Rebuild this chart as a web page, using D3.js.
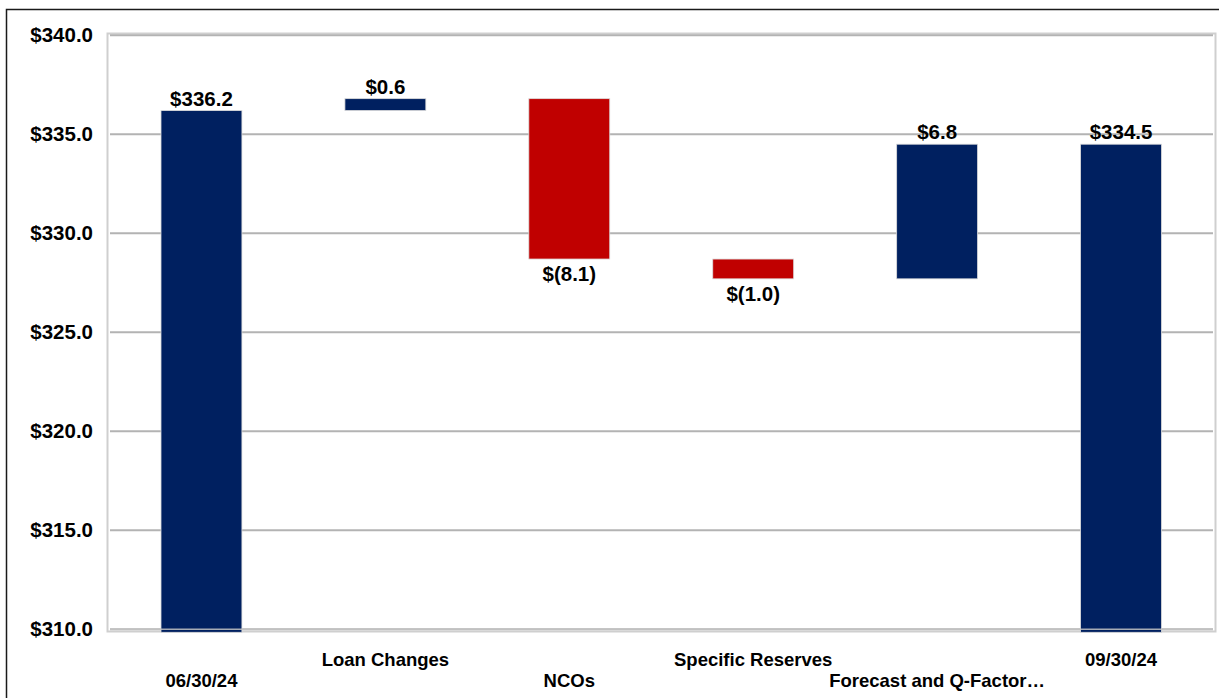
<!DOCTYPE html>
<html>
<head>
<meta charset="utf-8">
<script src="https://cdn.jsdelivr.net/npm/d3@7"></script>
<style>
  html, body { margin: 0; padding: 0; background: #ffffff; }
  svg { display: block; }
  text { font-family: "Liberation Sans", Arial, Helvetica, sans-serif; font-weight: bold; fill: #000; }
</style>
</head>
<body>
<svg id="chart" width="1219" height="698"></svg>
<script>
// Allowance walk, $ millions
const categories = ["06/30/24", "Loan Changes", "NCOs", "Specific Reserves", "Forecast and Q-Factor\u2026", "09/30/24"];
const amounts = [336.2, 0.6, -8.1, -1.0, 6.8, 334.5];
const isTotal = [true, false, false, false, false, true];
const yTicks = [310, 315, 320, 325, 330, 335, 340];
const yDomain = [310, 340];

const NAVY = "#002060";
const RED = "#C00000";

const svg = d3.select("#chart");
const W = 1219, H = 698;

// outer frame (top and left edges)
svg.append("path")
  .attr("d", `M6.5,${H} L6.5,9.5 L${W},9.5`)
  .attr("fill", "none")
  .attr("stroke", "#1a1a1a")
  .attr("stroke-width", 1.5);

const plot = { left: 107, right: 1216, top: 33, bottom: 632 };

const x = d3.scaleBand()
  .domain(categories)
  .range([109.5, 1213])
  .paddingInner(0.56)
  .paddingOuter(0.28);

const y = d3.scaleLinear()
  .domain(yDomain)
  .range([629.3, 35.3]);

// plot-area border
svg.append("rect")
  .attr("x", plot.left + 0.5)
  .attr("y", plot.top + 0.5)
  .attr("width", plot.right - plot.left - 1)
  .attr("height", plot.bottom - plot.top - 1)
  .attr("fill", "#ffffff")
  .attr("stroke", "#cfcfcf")
  .attr("stroke-width", 2);

// horizontal gridlines
svg.append("g")
  .selectAll("line")
  .data(yTicks)
  .join("line")
  .attr("x1", 110)
  .attr("x2", 1213)
  .attr("y1", d => y(d))
  .attr("y2", d => y(d))
  .attr("stroke", "#b3b3b3")
  .attr("stroke-width", 2);

// y-axis tick labels
const yAxis = d3.axisLeft(y)
  .tickValues(yTicks)
  .tickSize(0)
  .tickPadding(0)
  .tickFormat(d => "$" + d3.format(".1f")(d));

const yg = svg.append("g")
  .attr("transform", "translate(93,0)")
  .call(yAxis);
yg.select(".domain").remove();
yg.selectAll("text")
  .attr("font-size", "20.5px")
  .attr("font-family", "Liberation Sans, Arial, sans-serif")
  .attr("font-weight", "bold")
  .attr("fill", "#000");

// waterfall segments
let running = 0;
const bars = categories.map((c, i) => {
  let lo, hi;
  if (isTotal[i]) {
    lo = yDomain[0];
    hi = amounts[i];
    running = amounts[i];
  } else {
    const start = running;
    const end = running + amounts[i];
    lo = Math.min(start, end);
    hi = Math.max(start, end);
    running = end;
  }
  return { cat: c, value: amounts[i], total: isTotal[i], lo, hi };
});

const fmt = v => v < 0 ? `$(${d3.format(".1f")(Math.abs(v))})` : `$${d3.format(".1f")(v)}`;

svg.append("g")
  .selectAll("rect")
  .data(bars)
  .join("rect")
  .attr("x", d => x(d.cat))
  .attr("width", x.bandwidth())
  .attr("y", d => y(d.hi))
  .attr("height", d => (y(d.lo) - y(d.hi)) + (d.total ? 3 : 0))
  .attr("fill", d => d.value < 0 ? RED : NAVY)
  .attr("stroke", "#dcdcdc")
  .attr("stroke-width", 0.8);

// baseline over the total bars
svg.append("line")
  .attr("x1", 110)
  .attr("x2", 1213)
  .attr("y1", y(yDomain[0]))
  .attr("y2", y(yDomain[0]))
  .attr("stroke", "#c4c4c4")
  .attr("stroke-width", 1.6)
  .attr("opacity", 0.85);

// value labels
svg.append("g")
  .selectAll("text")
  .data(bars)
  .join("text")
  .attr("x", d => x(d.cat) + x.bandwidth() / 2)
  .attr("y", d => d.value < 0 ? y(d.lo) + 22 : y(d.hi) - 5)
  .attr("text-anchor", "middle")
  .attr("font-size", "20.5px")
  .text(d => fmt(d.value));

// category labels, staggered on two rows
svg.append("g")
  .selectAll("text")
  .data(categories)
  .join("text")
  .attr("x", d => x(d) + x.bandwidth() / 2)
  .attr("y", (d, i) => i % 2 === 0 ? 687 : 666)
  .attr("text-anchor", "middle")
  .attr("font-size", "18.5px")
  .text(d => d);
</script>
</body>
</html>
